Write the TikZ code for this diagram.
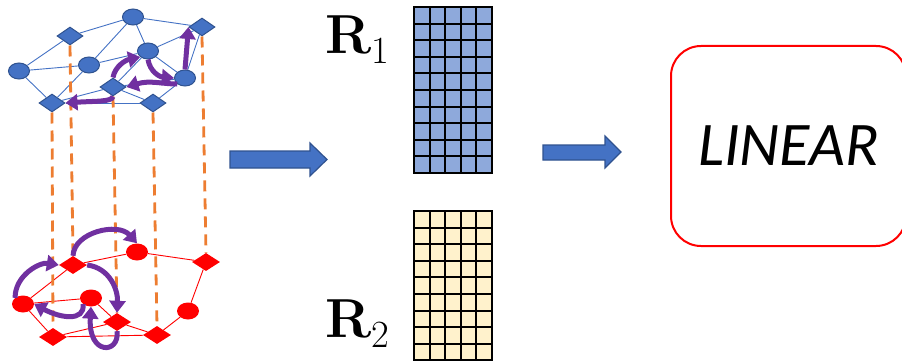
\documentclass[tikz,border=0pt]{standalone}
\usepackage{fontspec}
\newfontfamily\carlito{Carlito}
\usetikzlibrary{shapes.geometric,arrows.meta}
\definecolor{bfill}{HTML}{4472C4}
\definecolor{bdraw}{HTML}{2F528F}
\definecolor{orng}{HTML}{ED7D31}
\definecolor{purp}{HTML}{7030A0}
\definecolor{mblue}{HTML}{8EA9DB}
\definecolor{myell}{HTML}{FFF2CC}
\newcommand{\matlabel}[1]{{\fontsize{55}{60}\selectfont\bfseries R}\raisebox{-10pt}{\fontsize{38.5}{40}\selectfont #1}}
\begin{document}
\begin{tikzpicture}[x=1pt,y=-1pt,
 bcirc/.style={ellipse, fill=bfill, draw=bdraw, line width=1pt, minimum width=21pt, minimum height=16pt, inner sep=0pt},
 bdia/.style={diamond, fill=bfill, draw=bdraw, line width=1pt, minimum width=26pt, minimum height=18pt, inner sep=0pt},
 rcirc/.style={ellipse, fill=red, minimum width=22pt, minimum height=17pt, inner sep=0pt},
 rdia/.style={diamond, fill=red, minimum width=28pt, minimum height=18pt, inner sep=0pt},
 bedge/.style={draw=bfill, line width=0.9pt},
 redge/.style={draw=red, line width=0.9pt},
 vlink/.style={draw=orng, line width=2.8pt, dash pattern=on 11pt off 7pt},
 parrow/.style={draw=purp, line width=5pt, -{Triangle[width=16pt,length=12pt]}},
 blockarrow/.style={fill=bfill, draw=bdraw, line width=1.2pt, line join=miter},
 gridline/.style={draw=black, line width=2pt, line cap=rect},
 lab/.style={anchor=base west, inner sep=0pt}
]
\useasboundingbox (0,0) rectangle (902,361);
\clip (0,0) rectangle (902,361);

% ---------- top (blue) graph ----------
\node[bcirc] (c1) at (133,17) {};
\node[bdia]  (d1) at (202,27) {};
\node[bdia]  (d2) at (70,36) {};
\node[bcirc] (c2) at (148,51) {};
\node[bcirc] (c3) at (19,71) {};
\node[bcirc] (c4) at (89,65) {};
\node[bcirc] (c5) at (185,78) {};
\node[bdia]  (d3) at (113,87) {};
\node[bdia]  (d4) at (52,103) {};
\node[bdia]  (d5) at (153,103) {};

\foreach \a/\b in {c3/d2,d2/c1,c1/d1,c1/c4,c1/c2,c2/d1,d1/c5,c3/c4,c3/d4,c4/d4,c4/c2,c2/c5,c2/d3,d4/d3,d4/d5,d3/d5,c5/d3,c5/d5}
  \draw[bedge] (\a) -- (\b);

% ---------- bottom (red) graph ----------
\node[rcirc] (r1) at (137,252) {};
\node[rdia]  (rd1) at (206,262) {};
\node[rdia]  (rd2) at (73,265) {};
\node[rcirc] (r2) at (23,304) {};
\node[rcirc] (r3) at (91,298) {};
\node[rcirc] (r4) at (188,311) {};
\node[rdia]  (rd3) at (117,322) {};
\node[rdia]  (rd4) at (53,337) {};
\node[rdia]  (rd5) at (157,335) {};

\foreach \a/\b in {rd2/r1,r1/rd1,rd1/r4,r4/rd5,rd5/rd3,rd3/r3,r3/r2,r2/rd2,r2/rd4,rd4/rd3,rd4/rd5}
  \draw[redge] (\a) -- (\b);

% ---------- vertical links ----------
\foreach \a/\b in {d4/rd4,d2/rd2,d3/rd3,d5/rd5,d1/rd1}
  \draw[vlink] (\a.south) -- (\b.north);

% ---------- purple walks (top) ----------
\draw[parrow] (d3.north) .. controls (115,66) and (126,60) .. (c2.south west);
\draw[parrow] (c2.south) .. controls (150,72) and (160,77) .. (c5.west);
\draw[parrow] (c5.south west) .. controls (162,84) and (150,80) .. (d3.east);
\draw[parrow] (c5.north) -- (d1.west);
\draw[parrow] (d3.south) .. controls (112,102) and (95,101) .. (d4.east);

% ---------- purple walks (bottom) ----------
\draw[parrow] (rd2.north) .. controls (74,232) and (118,222) .. (r1.north);
\draw[parrow] (r2.north west) .. controls (15,275) and (40,262) .. (rd2.west);
\draw[parrow] (rd2.east) .. controls (110,268) and (118,290) .. (rd3.north);
\draw[parrow] (r3.south west) .. controls (85,322) and (60,318) .. (r2.east);
\draw[parrow] (rd3.south) .. controls (120,354) and (88,356) .. (r3.south);

% ---------- block arrows ----------
\filldraw[blockarrow] (230,151) -- (310,151) -- (310,143) -- (327,159.5) -- (310,176) -- (310,168) -- (230,168) -- cycle;
\filldraw[blockarrow] (543,145) -- (605,145) -- (605,136) -- (621,152) -- (605,168) -- (605,160) -- (543,160) -- cycle;

% ---------- matrices ----------
\fill[mblue] (414,7) rectangle (492,173);
\foreach \i in {0,...,5} \draw[gridline] ({414+\i*15.6},7) -- ({414+\i*15.6},173);
\foreach \j in {0,...,10} \draw[gridline] (414,{7+\j*16.6}) -- (492,{7+\j*16.6});

\fill[myell] (414,211) rectangle (492,377);
\foreach \i in {0,...,5} \draw[gridline] ({414+\i*15.6},211) -- ({414+\i*15.6},377);
\foreach \j in {0,...,10} \draw[gridline] (414,{211+\j*16.6}) -- (492,{211+\j*16.6});

\node[lab] (R1) at (325,53) {\matlabel{1}};
\node[lab] (R2) at (325,337) {\matlabel{2}};

% ---------- linear box ----------
\node[draw=red, line width=2pt, rounded corners=30pt, minimum width=235pt, minimum height=200pt,
      font=\carlito\itshape\fontsize{62}{70}\selectfont] (lin) at (788.5,146) {LINEAR};
\end{tikzpicture}
\end{document}
